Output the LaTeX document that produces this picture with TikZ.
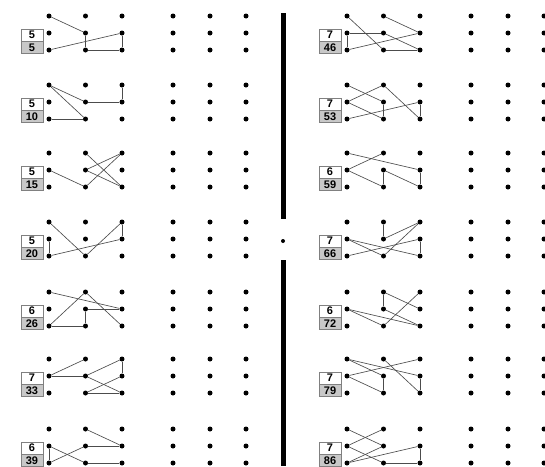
\documentclass[tikz,border=0pt]{standalone}
\usepackage{fontspec}
\setsansfont{Liberation Sans}
\usetikzlibrary{positioning}
\definecolor{boxgray}{HTML}{C8C8C8}
\definecolor{edgegray}{HTML}{808080}
\tikzset{
  dot/.style={circle,fill=black,inner sep=0pt,minimum size=5pt},
  link/.style={black!70,line width=0.65pt},
  numtop/.style={draw=edgegray,line width=0.8pt,fill=white,minimum width=22pt,minimum height=12pt,inner sep=0pt,
    font=\fontsize{11}{11}\selectfont\sffamily\bfseries},
  numbot/.style={numtop,fill=boxgray},
}
% one panel: name, left x, top y, upper number, lower number
\newcommand{\grid}[5]{%
  \foreach \c/\dx in {1/0,2/36.5,3/73,4/124,5/161,6/197}
    \foreach \r in {1,2,3}
      \node[dot] (#1-\c-\r) at ({#2+\dx},{#3+(\r-1)*17}) {};
  \node[numtop] (#1-n) at ({#2-17},{#3+19}) {#4};
  \node[numbot,below=0pt of #1-n] (#1-k) {#5};
}
\newcommand{\links}[2]{%
  \foreach \a/\b in {#2}
    \draw[link] (#1-\a) -- (#1-\b);
}

\begin{document}
\begin{tikzpicture}[x=1pt,y=-1pt]
\useasboundingbox (0,0) rectangle (545,466);
% left column
\grid{A}{49}{16}{5}{5}
\links{A}{1-1/2-2,1-3/3-2,2-2/2-3,2-3/3-3,3-2/3-3}
\grid{B}{49}{85}{5}{10}
\links{B}{1-1/2-2,1-1/2-3,2-2/3-2,3-1/3-2,1-3/2-3}
\grid{C}{49}{153}{5}{15}
\links{C}{2-1/3-3,3-1/2-2,3-1/2-3,2-2/3-3,1-2/2-3}
\grid{D}{49}{222}{5}{20}
\links{D}{1-1/2-3,1-2/1-3,1-3/3-2,3-1/3-2,3-1/2-3}
\grid{E}{49}{292}{6}{26}
\links{E}{1-1/3-2,2-1/1-3,2-1/3-3,2-2/3-2,2-2/2-3,1-3/2-3}
\grid{F}{49}{359}{7}{33}
\links{F}{1-2/2-1,1-2/2-2,2-2/3-1,3-1/3-2,2-2/3-3,3-2/2-3,2-3/3-3}
\grid{G}{49}{429}{6}{39}
\links{G}{2-1/3-2,2-2/3-2,1-2/1-3,1-2/2-3,1-3/2-2,2-3/3-3}
% right column
\grid{H}{347}{16}{7}{46}
\links{H}{1-1/2-3,1-2/2-2,1-2/1-3,1-3/3-2,2-1/3-2,2-2/3-3,2-3/3-3}
\grid{I}{347}{85}{7}{53}
\links{I}{1-1/2-2,1-2/2-1,1-2/2-3,2-2/2-3,2-1/3-3,1-3/3-2,3-2/3-3}
\grid{J}{347}{153}{6}{59}
\links{J}{1-1/3-2,1-2/2-1,1-2/2-3,2-2/2-3,2-2/3-3,3-2/3-3}
\grid{K}{347}{222}{7}{66}
\links{K}{2-1/2-2,2-2/3-1,3-1/2-3,1-2/2-3,1-2/3-3,1-3/3-2,3-2/3-3}
\grid{L}{347}{292}{6}{72}
\links{L}{2-1/2-2,2-1/3-2,3-1/2-3,1-2/2-3,1-2/3-3,2-2/3-3}
\grid{M}{347}{359}{7}{79}
\links{M}{1-1/2-2,1-1/3-2,1-2/3-1,1-2/2-3,2-1/3-3,2-2/2-3,3-2/3-3}
\grid{N}{347}{429}{7}{86}
\links{N}{1-1/2-2,1-2/2-1,1-2/2-3,1-3/3-2,1-3/2-2,2-3/3-3,3-2/3-3}
% divider
\fill (280.5,13) rectangle (285.5,219);
\fill (280.5,260) rectangle (285.5,466);
\node[dot,minimum size=4pt] (mid) at (283,241) {};
\end{tikzpicture}
\end{document}
